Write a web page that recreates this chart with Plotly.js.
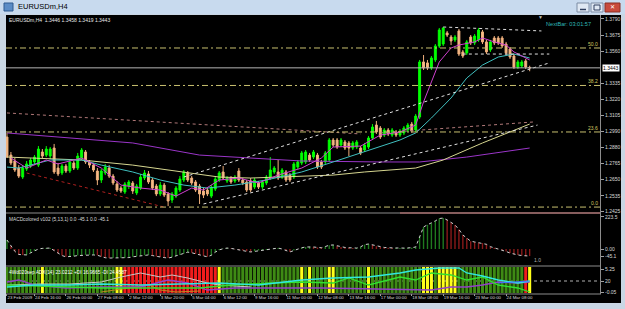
<!DOCTYPE html>
<html><head><meta charset="utf-8">
<script src="https://cdn.plot.ly/plotly-3.0.1.min.js"></script>
<style>html,body{margin:0;padding:0;background:#c9d6e4;overflow:hidden}#chart{width:625px;height:309px}</style>
</head><body><div id="chart"></div>
<script>
// ---------- DATA ----------
const symbolName = 'EURUSDm,H4';
const nextBarText = 'NextBar: 03:01:57';
const macdLabel = 'MACDcolored v102 (5,13,1) 0.0 -45.1 0.0 -45.1';
const adxLabel = '4Wd020sep ADX(14) 23.0212 +DI 16.9665 -DI 24.4587';

const openP = [
1.2952,1.2824,1.2782,1.2732,1.2668,1.2725,1.2746,1.2775,1.2753,1.2846,
1.2824,1.2817,1.2874,1.2732,1.2697,1.2746,1.2711,1.2768,1.2732,1.2803,
1.2846,1.2775,1.2753,1.2711,1.2647,1.2697,1.2732,1.2675,1.2619,1.2590,
1.2562,1.2604,1.2626,1.2555,1.2590,1.2661,1.2690,1.2647,1.2604,1.2548,
1.2611,1.2548,1.2505,1.2533,1.2576,1.2647,1.2697,1.2661,1.2633,1.2604,
1.2569,1.2576,1.2533,1.2583,1.2647,1.2704,1.2640,1.2661,1.2640,1.2711,
1.2647,1.2633,1.2640,1.2597,1.2626,1.2597,1.2626,1.2661,1.2704,1.2704,
1.2668,1.2704,1.2682,1.2668,1.2739,1.2768,1.2775,1.2824,1.2810,1.2824,
1.2775,1.2775,1.2789,1.2931,1.2931,1.2895,1.2917,1.2910,1.2874,1.2881,
1.2874,1.2860,1.2881,1.2945,1.3037,1.3016,1.2966,1.3002,1.2966,1.2988,
1.2966,1.2981,1.3002,1.3044,1.3002,1.3094,1.3485,1.3478,1.3442,1.3499,
1.3598,1.3612,1.3691,1.3662,1.3641,1.3705,1.3556,1.3549,1.3662,1.3620,
1.3641,1.3698,1.3627,1.3570,1.3655,1.3655,1.3655,1.3612,1.3577,1.3527,
1.3449,1.3456,1.3492,1.3446];
const highP = [
1.2981,1.2846,1.2803,1.2753,1.2753,1.2782,1.2803,1.2824,1.2888,1.2867,
1.2888,1.2881,1.2903,1.2768,1.2761,1.2761,1.2789,1.2782,1.2839,1.2874,
1.2860,1.2789,1.2768,1.2732,1.2725,1.2761,1.2753,1.2690,1.2640,1.2604,
1.2633,1.2647,1.2640,1.2619,1.2690,1.2718,1.2711,1.2661,1.2619,1.2633,
1.2626,1.2562,1.2562,1.2604,1.2675,1.2718,1.2711,1.2675,1.2647,1.2619,
1.2590,1.2590,1.2611,1.2675,1.2711,1.2746,1.2675,1.2675,1.2682,1.2732,
1.2661,1.2647,1.2661,1.2661,1.2640,1.2647,1.2682,1.2810,1.2746,1.2789,
1.2732,1.2718,1.2697,1.2775,1.2789,1.2853,1.2860,1.2839,1.2860,1.2839,
1.2789,1.2853,1.2945,1.2945,1.2945,1.2945,1.2931,1.2924,1.2924,1.2931,
1.2888,1.2910,1.2959,1.3044,1.3066,1.3030,1.3016,1.3016,1.3016,1.3002,
1.3009,1.3030,1.3052,1.3059,1.3116,1.3499,1.3534,1.3499,1.3527,1.3612,
1.3726,1.3733,1.3705,1.3676,1.3676,1.3719,1.3570,1.3641,1.3676,1.3683,
1.3726,1.3712,1.3641,1.3641,1.3669,1.3669,1.3669,1.3627,1.3591,1.3541,
1.3499,1.3499,1.3506,1.3458];
const lowP = [
1.2803,1.2753,1.2704,1.2661,1.2654,1.2711,1.2732,1.2753,1.2739,1.2803,
1.2810,1.2796,1.2690,1.2675,1.2682,1.2697,1.2697,1.2718,1.2718,1.2789,
1.2761,1.2732,1.2704,1.2611,1.2626,1.2682,1.2661,1.2611,1.2562,1.2555,
1.2548,1.2583,1.2548,1.2540,1.2576,1.2647,1.2619,1.2576,1.2533,1.2533,
1.2526,1.2462,1.2484,1.2519,1.2562,1.2633,1.2633,1.2611,1.2562,1.2477,
1.2519,1.2533,1.2519,1.2569,1.2633,1.2647,1.2626,1.2619,1.2626,1.2633,
1.2611,1.2562,1.2562,1.2583,1.2583,1.2583,1.2611,1.2647,1.2690,1.2647,
1.2654,1.2633,1.2633,1.2654,1.2725,1.2753,1.2761,1.2775,1.2796,1.2725,
1.2725,1.2761,1.2775,1.2881,1.2867,1.2881,1.2860,1.2817,1.2860,1.2867,
1.2824,1.2846,1.2867,1.2931,1.2974,1.2938,1.2952,1.2959,1.2952,1.2952,
1.2952,1.2966,1.2988,1.2981,1.2988,1.3080,1.3428,1.3428,1.3428,1.3485,
1.3584,1.3598,1.3662,1.3605,1.3627,1.3527,1.3513,1.3534,1.3605,1.3605,
1.3627,1.3612,1.3541,1.3556,1.3605,1.3605,1.3584,1.3534,1.3506,1.3435,
1.3435,1.3442,1.3435,1.3419];
const closeP = [
1.2810,1.2768,1.2718,1.2675,1.2732,1.2761,1.2789,1.2810,1.2867,1.2817,
1.2867,1.2867,1.2704,1.2690,1.2746,1.2711,1.2775,1.2732,1.2817,1.2860,
1.2775,1.2753,1.2718,1.2647,1.2711,1.2739,1.2675,1.2626,1.2576,1.2569,
1.2619,1.2633,1.2569,1.2604,1.2668,1.2697,1.2633,1.2590,1.2548,1.2611,
1.2540,1.2498,1.2548,1.2590,1.2654,1.2704,1.2647,1.2626,1.2576,1.2548,
1.2540,1.2548,1.2597,1.2654,1.2697,1.2661,1.2661,1.2633,1.2668,1.2647,
1.2626,1.2576,1.2576,1.2647,1.2597,1.2633,1.2668,1.2718,1.2732,1.2661,
1.2718,1.2647,1.2647,1.2761,1.2775,1.2839,1.2846,1.2789,1.2846,1.2739,
1.2739,1.2839,1.2931,1.2895,1.2881,1.2931,1.2874,1.2874,1.2910,1.2917,
1.2839,1.2895,1.2945,1.3023,1.2988,1.2952,1.3002,1.2974,1.3002,1.2966,
1.2995,1.3016,1.3037,1.2995,1.3101,1.3485,1.3442,1.3442,1.3513,1.3598,
1.3712,1.3726,1.3676,1.3634,1.3662,1.3541,1.3527,1.3627,1.3620,1.3669,
1.3712,1.3627,1.3556,1.3627,1.3620,1.3620,1.3598,1.3549,1.3520,1.3449,
1.3485,1.3485,1.3449,1.3443];

// moving averages, sampled (bar index, price)
const maPurpleX = [0,32,49,58,75,95,105,117,133];
const maPurpleY = [1.2981,1.2910,1.2824,1.2810,1.2782,1.2775,1.2775,1.2810,1.2874];
const maKhakiX = [0,19,32,47,54,62,83,91,97,104,111,121,133];
const maKhakiY = [1.2810,1.2789,1.2753,1.2697,1.2668,1.2661,1.2682,1.2704,1.2718,1.2732,1.2789,1.2910,1.3044];
const maCyanX = [0,3,11,19,24,32,39,45,51,58,66,75,83,92,100,104,108,113,117,121,125,129,133];
const maCyanY = [1.2739,1.2732,1.2789,1.2789,1.2753,1.2704,1.2647,1.2611,1.2590,1.2611,1.2647,1.2704,1.2775,1.2860,1.2931,1.2981,1.3087,1.3229,1.3371,1.3463,1.3520,1.3541,1.3513];
const maMagentaX = [1,5,10,13,19,24,29,34,39,43,47,50,54,59,64,69,75,80,83,90,95,100,104,106,108,110,113,115,119,121,124,127,129,133];
const maMagentaY = [1.2803,1.2732,1.2789,1.2761,1.2803,1.2732,1.2611,1.2590,1.2576,1.2533,1.2590,1.2576,1.2647,1.2661,1.2626,1.2682,1.2732,1.2803,1.2881,1.2888,1.2966,1.2988,1.3037,1.3201,1.3343,1.3485,1.3584,1.3605,1.3627,1.3655,1.3627,1.3605,1.3556,1.3499];

// drawn trend lines (bar index, price)
const redTrendX = [5,40], redTrendY = [1.2697,1.2455];
const chanUpX = [45,138], chanUpY = [1.2668,1.3478];
const chanLowX = [50,135], chanLowY = [1.2477,1.3037];
const topLineX = [111,136], topLineY = [1.3733,1.3705];
const midLineX = [116,138], midLineY = [1.3541,1.3541];
const pinkAX = [0,90], pinkAY = [1.3123,1.2974];
const pinkBX = [95,134], pinkBY = [1.2981,1.3059];

// Fibonacci levels
const fibLabels = ['0.0','23.6','38.2','50.0'];
const fibPrices = [1.2455,1.2988,1.3318,1.3584];

// price axis ticks
const priceTicks = [1.3790,1.3675,1.3560,1.3335,1.3220,1.3105,1.2990,1.2880,1.2765,1.2650,1.2535,1.2425];

// time axis
const timeTickBars = [0,7,15,23,31,39,47,55,63,71,79,87,95,103,111,119,127];
const timeTickText = ['23 Feb 2009','24 Feb 16:00','26 Feb 00:00','27 Feb 08:00','2 Mar 12:00','3 Mar 20:00','5 Mar 04:00','6 Mar 12:00','9 Mar 16:00','11 Mar 00:00','12 Mar 08:00','13 Mar 16:00','17 Mar 00:00','18 Mar 08:00','19 Mar 16:00','23 Mar 00:00','24 Mar 08:00'];

// MACD histogram (one value per bar)
const macdVals = [58,20,-15,-35,-38,-38,-25,-12,0,4,
 6,6,-10,-28,-42,-50,-50,-46,-42,-40,
 -38,-38,-38,-40,-50,-56,-58,-58,-58,-58,
 -58,-55,-50,-46,-44,-40,-38,-42,-48,-51,
 -55,-58,-52,-44,-38,-28,-20,-24,-32,-38,
 -44,-50,-40,-20,-6,2,6,4,-2,-6,
 -10,-15,-19,-15,-10,-8,-6,0,4,6,
 0,-10,-19,-10,0,8,13,14,13,10,
 8,16,24,26,20,13,10,8,6,6,
 14,28,32,26,18,13,10,8,6,6,
 6,6,6,8,13,80,141,155,166,180,
 195,198,186,170,154,125,90,70,50,45,
 40,38,30,15,8,2,-6,-16,-26,-33,
 -38,-42,-44,-45.1];
const macdTickText = ['223.5','0.00','-45.1'];
const macdTickAt = [205, 0, -45.1];

// ADX panel: background state per bar as runs, and lines sampled
const adxStateRuns = [['G',9],['Y',1],['G',18],['Y',2],['R',24],['Y',1],['G',20],['Y',1],['G',1],['Y',1],['G',4],['Y',2],['G',8],['Y',1],['G',13],['Y',3],['G',1],['Y',5],['G',17],['R',1],['Y',1]];
const adxGreyX = [0,8,16,24,29,34,39,42,46,51,54,62];
const adxGreyY = [12,14,14,18,28,36,28,32,26,16,12,8];
const adxCyanX = [0,7,16,24,34,44,54,64,75,83,92,100,104,110,115,117,121,125,130,133];
const adxCyanY = [8,12,12,14,12,14,16,12,22,26,28,36,42,46,46,36,30,22,16,20];
const adxGreenX = [0,8,24,49,57,67,75,83,87,92,100,104,108,113,117,121,125,130,133];
const adxGreenY = [12,10,6,6,12,16,18,16,26,12,28,22,36,32,22,28,12,6,-2];
const adxPurpleX = [0,3,7,15,24,34,41,46,51,58,80,108,113,117,121,125,130,133];
const adxPurpleY = [18,22,12,6,8,8,22,16,2,6,6,2,8,8,12,18,16,18];
const adxOrangeX = [24,31,36,39,43,49];
const adxOrangeY = [-2,6,12,2,-2,0];
const adxBlueX = [125,133], adxBlueY = [16,20];
const adxLevel = 20;
const adxTicks = [44,20,-2], adxTickText = ['5.25','20','-0.05'];

// ---------- LAYOUT HELPERS ----------
const W = 625, H = 309;
const px = x => x / W, py = y => 1 - y / H;
const n = closeP.length;
const idx = closeP.map((_, i) => i);
const last = n - 1;
const FONT = 'Liberation Sans, Arial, sans-serif';

const adxStates = [];
adxStateRuns.forEach(([s, k]) => { for (let j = 0; j < k; j++) adxStates.push(s); });
const stateColor = {G:'#3e8a14', R:'#f01c1c', Y:'#ffff1a'};
const adxBottom = -4, adxTop = 48;

const macdColors = macdVals.map((v, i) => (i === 0 || v >= macdVals[i-1]) ? '#1f7a1f' : '#8a1a1a');

const line = (x, y, color, ya, dash, w) => ({type:'scatter', mode:'lines', x, y, xaxis:'x', yaxis:ya,
  line:{color, width:w || 1, dash:dash || 'solid'}, hoverinfo:'skip'});

const traces = [
  {type:'bar', x: idx, y: idx.map(() => adxTop - adxBottom), base: adxBottom, width: 0.78,
   marker:{color: adxStates.map(s => stateColor[s]), line:{width:0}}, xaxis:'x', yaxis:'y3', hoverinfo:'skip'},
  line(adxGreyX, adxGreyY, '#c8c8c8', 'y3'),
  line(adxOrangeX, adxOrangeY, '#c08a20', 'y3'),
  line(adxPurpleX, adxPurpleY, '#9440c8', 'y3', 'solid', 1.3),
  line(adxGreenX, adxGreenY, '#30e030', 'y3', 'solid', 1.3),
  line(adxCyanX, adxCyanY, '#30e8e0', 'y3', 'solid', 1.3),
  line(adxBlueX, adxBlueY, '#4070ff', 'y3'),
  {type:'bar', x: idx, y: macdVals, width: 0.35, marker:{color: macdColors, line:{width:0}},
   xaxis:'x', yaxis:'y2', hoverinfo:'skip'},
  line(idx, macdVals, '#d0d0d0', 'y2', 'dot'),
  line(pinkAX, pinkAY, '#b07878', 'y', 'dot'),
  line(pinkBX, pinkBY, '#b07878', 'y', 'dot'),
  {type:'candlestick', x: idx, open: openP, high: highP, low: lowP, close: closeP,
   increasing:{line:{color:'#00ff00', width:1}, fillcolor:'#00ff00'},
   decreasing:{line:{color:'#f0b07c', width:1}, fillcolor:'#f6bd8c'},
   whiskerwidth: 0, xaxis:'x', yaxis:'y', hoverinfo:'skip'},
  line(maPurpleX, maPurpleY, '#9a35c8', 'y'),
  line(maKhakiX, maKhakiY, '#d6d690', 'y'),
  line(maCyanX, maCyanY, '#40c0c0', 'y'),
  line(maMagentaX, maMagentaY, '#d040d0', 'y'),
  line(redTrendX, redTrendY, '#b02020', 'y', 'dot'),
  line(chanUpX, chanUpY, '#e0e0e0', 'y', 'dot'),
  line(chanLowX, chanLowY, '#e0e0e0', 'y', 'dot'),
  line(topLineX, topLineY, '#e0e0e0', 'y', 'dot'),
  line(midLineX, midLineY, '#e0e0e0', 'y', 'dot')
];

const shapes = [
  {type:'rect', xref:'paper', yref:'paper', x0:0, x1:1, y0:py(14), y1:1, fillcolor:'#c8daee', line:{width:0}, layer:'below'},
  {type:'rect', xref:'paper', yref:'paper', x0:px(6), x1:px(621), y0:py(303), y1:py(15), fillcolor:'#000000', line:{width:0}, layer:'below'},
  {type:'line', xref:'paper', yref:'y3', x0:px(6), x1:px(600), y0:adxLevel, y1:adxLevel, line:{color:'#b0b0b0', width:1, dash:'dot'}, layer:'below'},
  {type:'line', xref:'paper', yref:'paper', x0:px(6), x1:px(601), y0:py(213), y1:py(213), line:{color:'#8c8c8c', width:1}},
  {type:'line', xref:'paper', yref:'paper', x0:px(400), x1:px(601), y0:py(213), y1:py(213), line:{color:'#c87474', width:1}},
  {type:'line', xref:'paper', yref:'paper', x0:px(6), x1:px(601), y0:py(266), y1:py(266), line:{color:'#8c8c8c', width:1}},
  {type:'line', xref:'paper', yref:'paper', x0:px(6), x1:px(601), y0:py(294), y1:py(294), line:{color:'#8c8c8c', width:1}},
  {type:'line', xref:'paper', yref:'paper', x0:px(600.5), x1:px(600.5), y0:py(294), y1:py(15), line:{color:'#8c8c8c', width:1}},
  {type:'line', xref:'paper', yref:'y', x0:px(6), x1:px(600), y0:closeP[last], y1:closeP[last], line:{color:'#b4b4b4', width:1}},
  {type:'rect', xref:'paper', yref:'paper', x0:px(4), x1:px(13), y0:py(11), y1:py(3), fillcolor:'#5b8cc6', line:{color:'#2e5a90', width:1}},
  {type:'rect', xref:'paper', yref:'paper', x0:px(577), x1:px(589), y0:py(12), y1:py(3), fillcolor:'#dfe8f3', line:{color:'#7c8ca4', width:1}},
  {type:'rect', xref:'paper', yref:'paper', x0:px(591), x1:px(603), y0:py(12), y1:py(3), fillcolor:'#dfe8f3', line:{color:'#7c8ca4', width:1}},
  {type:'rect', xref:'paper', yref:'paper', x0:px(605), x1:px(620), y0:py(12), y1:py(3), fillcolor:'#c94a3c', line:{color:'#8a2e24', width:1}},
  {type:'line', xref:'paper', yref:'paper', x0:px(580), x1:px(586), y0:py(9.5), y1:py(9.5), line:{color:'#304060', width:1.5}},
  {type:'rect', xref:'paper', yref:'paper', x0:px(594), x1:px(600), y0:py(10), y1:py(5), line:{color:'#304060', width:1}}
];
fibPrices.forEach(p => shapes.push({type:'line', xref:'paper', yref:'y', x0:px(6), x1:px(600), y0:p, y1:p,
  line:{color:'#c8c070', width:1, dash:'6px,3px,2px,3px'}}));

const ann = (x, y, text, size, color, extra) => Object.assign({xref:'paper', yref:'paper', x, y, text,
  showarrow:false, xanchor:'left', yanchor:'middle', borderpad:0, font:{family:FONT, size, color}}, extra || {});
const f4 = v => v.toFixed(4);
const annotations = [
  ann(px(17), py(7), symbolName, 7.5, '#000000'),
  ann(px(8), py(20), symbolName + '  ' + [openP[last], highP[last], lowP[last], closeP[last]].map(f4).join(' '), 5, '#e8e8e8'),
  ann(px(545), py(24), nextBarText, 5.6, '#2fb8b8'),
  ann(px(540), py(17), '▼', 5, '#c0c0c0', {xanchor:'center'}),
  ann(px(602), closeP[last], f4(closeP[last]), 5, '#000000', {yref:'y', bgcolor:'#ffffff'}),
  ann(px(8), py(219), macdLabel, 4.8, '#d8d8d8'),
  ann(px(533), py(260), '1.0', 5, '#b0b0b0'),
  ann(px(8), py(272), adxLabel, 4.8, '#ffffff'),
  ann(px(612), py(7.5), '✕', 6, '#ffffff', {xanchor:'center'})
];
fibPrices.forEach((p, k) => annotations.push(ann(px(599), p, fibLabels[k], 5, '#d4c860',
  {yref:'y', xanchor:'right', yanchor:'bottom'})));

const axFont = {family:FONT, size:5, color:'#d8d8d8'};
const yCommon = {side:'right', anchor:'x', showgrid:false, zeroline:false, showline:false, ticks:'outside',
  ticklen:3, tickcolor:'#a0a0a0', tickfont:axFont, fixedrange:true};

const layout = {
  width:W, height:H, margin:{l:0, r:0, t:0, b:0},
  paper_bgcolor:'#c9d6e4', plot_bgcolor:'rgba(0,0,0,0)',
  showlegend:false, barmode:'overlay',
  xaxis:{domain:[px(6), px(600)], range:[-0.25, 150.9], anchor:'y3', showgrid:false, zeroline:false,
    showline:false, tickmode:'array', tickvals:timeTickBars, ticktext:timeTickText, ticks:'outside', ticklen:2,
    tickangle:0, tickcolor:'#a0a0a0', tickfont:{family:FONT, size:4.4, color:'#d8d8d8'},
    ticklabelposition:'outside right', rangeslider:{visible:false}, fixedrange:true},
  yaxis:Object.assign({}, yCommon, {domain:[py(212), py(16)], range:[1.2420, 1.3811], tickmode:'array',
    tickvals:priceTicks, ticktext:priceTicks.map(f4)}),
  yaxis2:Object.assign({}, yCommon, {domain:[py(265), py(214)], range:[-102.4, 224], tickmode:'array',
    tickvals:macdTickAt, ticktext:macdTickText}),
  yaxis3:Object.assign({}, yCommon, {domain:[py(293), py(267)], range:[adxBottom, adxTop], tickmode:'array',
    tickvals:adxTicks, ticktext:adxTickText}),
  shapes, annotations
};

Plotly.newPlot('chart', traces, layout, {staticPlot:true, displayModeBar:false});
</script></body></html>
